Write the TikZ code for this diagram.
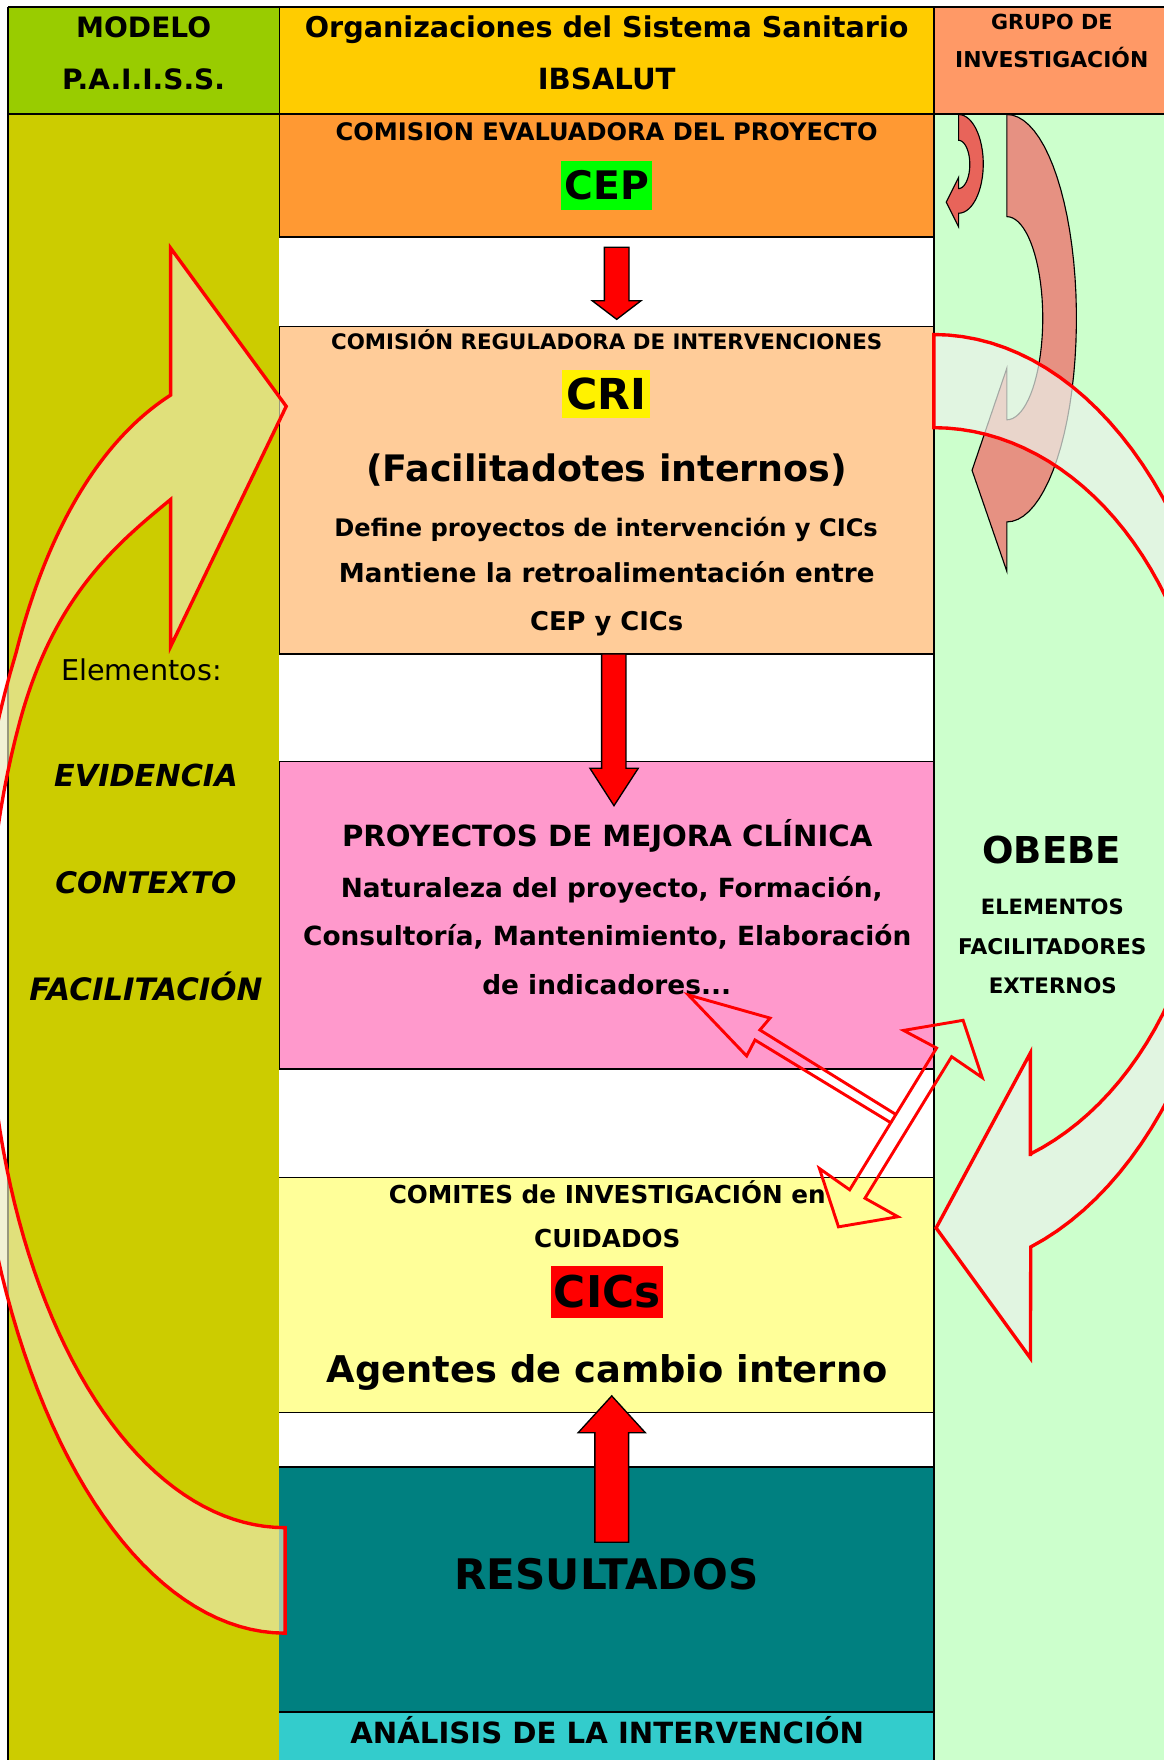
\documentclass[tikz,border=0pt]{standalone}
\usepackage{fontspec}
\setmainfont{DejaVu Sans}
\newcommand\fz[1]{\fontsize{#1}{#1}\selectfont}

\definecolor{paissgreen}{HTML}{99CC00}
\definecolor{ibsalutcol}{HTML}{FFCC00}
\definecolor{grupocol}{HTML}{FF9966}
\definecolor{olivecol}{HTML}{CCCC00}
\definecolor{obebecol}{HTML}{CCFFCC}
\definecolor{cepcol}{HTML}{FF9933}
\definecolor{cricol}{HTML}{FFCC99}
\definecolor{proycol}{HTML}{FF99CC}
\definecolor{ciccol}{HTML}{FFFF99}
\definecolor{rescol}{HTML}{008080}
\definecolor{anacol}{HTML}{33CCCC}
\definecolor{cepmark}{HTML}{00FF00}
\definecolor{salmon}{RGB}{230,145,130}
\definecolor{salmondark}{RGB}{232,100,90}

\begin{document}
\begin{tikzpicture}
[x=1pt, y=-1pt,
 txt/.style={anchor=base, inner sep=0pt, font=\bfseries},
 hl/.style={inner sep=0pt, font=\bfseries},
 grid/.style={line width=1.5pt},
 redblock/.style={fill=red, draw=black, line width=1.2pt},
 bigcurve/.style={draw=red, line width=3pt},
 dotted arrow/.style={draw=black, line width=1pt},
 twoway/.style={draw=red, line width=2.6pt},
]

\useasboundingbox (0,0) rectangle (1037,1568);
\clip (0,0) rectangle (1037,1568);
\fill[white] (0,0) rectangle (1037,1568);

% columns and header
\fill[paissgreen] (7,6.5) rectangle (249,101.5);
\fill[ibsalutcol] (249,6.5) rectangle (832,101.5);
\fill[grupocol] (832,6.5) rectangle (1037,101.5);
\fill[olivecol] (7,101.5) rectangle (249,1568);
\fill[obebecol] (832,101.5) rectangle (1037,1568);

% boxes of the middle column
\fill[cepcol] (249,101.5) rectangle (832,211);
\fill[cricol] (249,291) rectangle (832,582.5);
\fill[proycol] (249,678.5) rectangle (832,952.6);
\fill[ciccol] (249,1049) rectangle (832,1258.5);
\fill[rescol] (249,1307) rectangle (832,1525);
\fill[anacol] (249,1525) rectangle (832,1568);

\draw[grid] (7,6.5) -- (1037,6.5);
\draw[grid] (7,101.5) -- (1037,101.5);
\draw[grid] (7,6.5) -- (7,1568);
\draw[grid] (832,6.5) -- (832,1568);
\draw[grid] (249,6.5) -- (249,211);
\draw[grid] (249,291) -- (249,582.5);
\draw[grid] (249,678.5) -- (249,952.6);
\foreach \y in {211,291,582.5,678.5,952.6,1049,1258.5,1307,1525}
  \draw[grid] (249,\y) -- (832,\y);

% straight arrows
\draw[redblock] (538.4,220.3) -- (560.4,220.3) -- (560.4,268) -- (571,268)
  -- (549.4,284.5) -- (527.7,268) -- (538.4,268) -- cycle;
\draw[redblock] (536,582.6) -- (557.7,582.6) -- (557.7,684.5) -- (568.6,684.5)
  -- (547,717.8) -- (525.6,684.5) -- (536,684.5) -- cycle;
\draw[redblock] (530,1374) -- (560,1374) -- (560,1276.5) -- (575,1276.5)
  -- (545,1243.6) -- (515,1276.5) -- (530,1276.5) -- cycle;

% header
\node[txt] (modelo) at (128,33) {\fz{25}MODELO};
\node[txt] (paiiss) at (128,80) {\fz{25}P.A.I.I.S.S.};
\node[txt] (org) at (540.5,33) {\fz{25.5}Organizaciones del Sistema Sanitario};
\node[txt] (ibsalut) at (540.5,80) {\fz{26}IBSALUT};
\node[txt] (grupo) at (937,26) {\fz{18.5}GRUPO DE};
\node[txt] (invest) at (937,60) {\fz{19.5}INVESTIGACIÓN};

% middle column
\node[txt] (cepname) at (540.5,125) {\fz{21.5}COMISION EVALUADORA DEL PROYECTO};
\node[hl, fill=cepmark, minimum width=81pt, minimum height=44pt] (cep) at (540.5,165) {\fz{35}CEP};
\node[txt] (criname) at (540.5,311) {\fz{19}COMISIÓN REGULADORA DE INTERVENCIONES};
\node[hl, fill=yellow, minimum width=78pt, minimum height=42pt] (cri) at (540,351) {\fz{38}CRI};
\node[txt] (facil) at (540.5,429) {\fz{32.5}(Facilitadotes internos)};
\node[txt] (define) at (540,478) {\fz{21.5}Define proyectos de intervención y CICs};
\node[txt] (mantiene) at (540.5,519) {\fz{23.3}Mantiene la retroalimentación entre};
\node[txt] (cepcics) at (540.5,562) {\fz{23}CEP y CICs};
\node[txt] (proy) at (541,754) {\fz{26}PROYECTOS DE MEJORA CLÍNICA};
\node[txt] (natur) at (545,800) {\fz{23.5}Naturaleza del proyecto, Formación,};
\node[txt] (consul) at (541,842) {\fz{23.5}Consultoría, Mantenimiento, Elaboración};
\node[txt] (indic) at (540.5,886) {\fz{23.5}de indicadores...};
\node[txt] (comites) at (541,1072) {\fz{22}COMITES de INVESTIGACIÓN en};
\node[txt] (cuidados) at (541,1111) {\fz{22}CUIDADOS};
\node[hl, fill=red, minimum width=100pt, minimum height=46pt] (cics) at (541,1151) {\fz{39}CICs};
\node[txt] (agentes) at (541,1232) {\fz{32.8}Agentes de cambio interno};
\node[txt] (result) at (540.5,1416) {\fz{37.5}RESULTADOS};
\node[txt] (analisis) at (541,1553) {\fz{26}ANÁLISIS DE LA INTERVENCIÓN};

% left column
\node[txt, font=\mdseries] (elem) at (126,606) {\fz{25.5}Elementos:};
\node[txt, font=\bfseries\itshape] (evid) at (130,701) {\fz{27}EVIDENCIA};
\node[txt, font=\bfseries\itshape] (contexto) at (130,796) {\fz{26.5}CONTEXTO};
\node[txt, font=\bfseries\itshape] (facilit) at (130,891) {\fz{27.5}FACILITACIÓN};

% right column
\node[txt] (obebe) at (937,769) {\fz{33}OBEBE};
\node[txt] (elementos) at (937.5,815) {\fz{18.8}ELEMENTOS};
\node[txt] (facilitadores) at (937.5,850) {\fz{19.3}FACILITADORES};
\node[txt] (externos) at (938,885) {\fz{19}EXTERNOS};

% research group arrows
\draw[dotted arrow, fill=salmondark] (854,102)
  -- plot[domain=0:1, samples=30, variable=\s] ({854+22*cos(-90+180*\s)}, {146+44*sin(-90+180*\s)})
  -- (854,202) -- (843,180) -- (854,158) -- (854,168)
  -- plot[domain=0:1, samples=30, variable=\s] ({854+10*cos(90-180*\s)}, {146.5+21.5*sin(90-180*\s)})
  -- cycle;
\draw[dotted arrow, fill=salmon] (897,102)
  -- plot[domain=0:1, samples=40, variable=\s] ({897+62*cos(-90+180*\s)}, {283.5+181.5*sin(-90+180*\s)})
  -- (897,509) -- (866,419) -- (897,328) -- (897,374)
  -- plot[domain=0:1, samples=40, variable=\s] ({897+32*cos(90-180*\s)}, {283.5+90.5*sin(90-180*\s)})
  -- cycle;

% external facilitators arrow
\draw[bigcurve, fill={rgb,255:red,235;green,242;blue,235}, fill opacity=0.7] (832,381) -- (832,298)
  -- plot[domain=0:1, samples=60, variable=\s] ({832+269*cos(-90+161.4*\s)}, {715.5+417.5*sin(-90+161.4*\s)})
  -- (918,1210) -- (834,1094) -- (918,938) -- (918,1030)
  -- plot[domain=0:1, samples=60, variable=\s] ({832+247*cos(69.6-159.6*\s)}, {715+334*sin(69.6-159.6*\s)})
  -- cycle;

% model arrow
\draw[bigcurve, fill={rgb,255:red,235;green,235;blue,190}, fill opacity=0.65] (254,1455) -- (254,1361)
  -- plot[domain=0:1, samples=60, variable=\s] ({254+265*cos(90+117.1*\s)}, {866.5+494.5*sin(90+117.1*\s)})
  .. controls (48,532) and (102,486) .. (152,445)
  -- (152,576) -- (255,362) -- (152,221) -- (152,352)
  .. controls (85,395) and (40,480) .. (14.2,582)
  -- plot[domain=0:1, samples=60, variable=\s] ({254+281.5*cos(211.57-121.57*\s)}, {882+573*sin(211.57-121.57*\s)})
  -- cycle;

% feedback between projects, CICs and OBEBE
\draw[twoway] (798.8,993.3) -- (677,917.6) -- (686,907) -- (613.2,886.4)
  -- (665.2,940.8) -- (672.6,926.5) -- (794.4,1000.7);
\draw[twoway] (858,909) -- (875,960) -- (847.8,941.4) -- (770.6,1067.5) -- (800,1084)
  -- (747,1093) -- (730,1041) -- (757,1060) -- (834.4,933.7) -- (805,918) -- cycle;
\end{tikzpicture}
\end{document}
